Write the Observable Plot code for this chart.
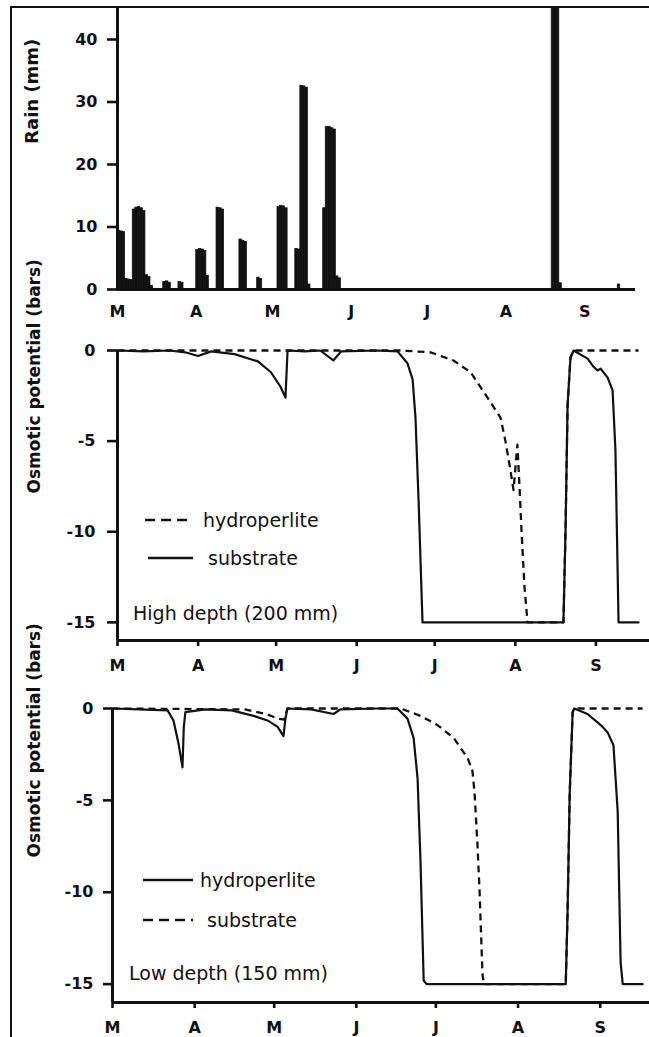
<!DOCTYPE html>
<html>
<head>
<meta charset="utf-8">
<script src="https://cdn.jsdelivr.net/npm/d3@7"></script>
<script src="https://cdn.jsdelivr.net/npm/@observablehq/plot@0.6"></script>
<style>
  body { margin: 0; background: #fff; }
  #fig { position: relative; width: 649px; height: 1037px; overflow: hidden; background: #fff;
         font-family: "DejaVu Sans", sans-serif; color: #111; }
  .panel { position: absolute; left: 0; }
  .panel svg { background: transparent !important; display: block; overflow: visible; }
  .panel svg.axes { position: absolute; left: 0; top: 0; }
  .panel svg.axes [aria-label$="axis tick"] path { stroke-width: 2.6px; }
  .frame { position: absolute; left: 10px; top: 6px; width: 700px; height: 1100px;
           border-left: 2px solid #111; border-top: 2px solid #111; pointer-events: none; }
  .leg { position: absolute; height: 20px; line-height: 20px; font-size: 19px; white-space: nowrap; color: #111; }
  .sw { position: absolute; height: 4px; }
</style>
</head>
<body>
<div id="fig">
  <div class="panel" id="p1" style="top:0px"></div>
  <div class="panel" id="p2" style="top:325px"></div>
  <div class="panel" id="p3" style="top:680px"></div>
  <div class="frame"></div>
</div>
<script>
// ---- axes ----
const monthDays = [0, 31, 61, 92, 122, 153, 184];          // days since 1 March
const monthLabels = ["M", "A", "M", "J", "J", "A", "S"];
const rainTicks = [0, 10, 20, 30, 40];
const potentialTicks = [0, -5, -10, -15];

// ---- daily rain (mm), day = days since 1 March ----
const rainDay = [0,1,2,3,4,5, 6,7,8,9,10,11,12,13, 18,19,20, 24,25, 31,32,33,34,35, 39,40,41, 48,49,50, 55,56, 63,64,65,66, 70,71,72,73,74,75, 81,82,83,84,85,86,87, 171,172,173,174, 197];
const rainMm  = [9.4,9.3,9.2,1.7,1.6,1.5, 12.8,13.1,13.2,13.0,12.6,2.3,2.0,0.6, 1.2,1.3,1.1, 1.2,1.1, 6.3,6.5,6.4,6.2,2.2, 13.1,13.0,12.8, 8.0,7.8,7.6, 1.9,1.7, 13.2,13.4,13.3,13.0, 6.5,6.4,32.6,32.5,32.3,0.8, 13.0,26.0,26.0,25.8,25.6,2.1,1.8, 48,48,48,1.0, 0.8];

// ---- High depth (200 mm) ----
const highSubDay = [0, 10, 20, 26, 31, 36, 45, 54, 59, 62.7, 64.6, 65.4, 72, 78, 83, 86, 100, 107.7, 111.5, 113.5, 114.6, 115.8, 117.3, 171.5, 172.3, 173.1, 174.2, 175.4, 180.8, 183.1, 184.6, 185.8, 188.5, 190.4, 191.5, 192.7, 200.4];
const highSubVal = [0, -0.05, 0, -0.1, -0.3, -0.05, -0.2, -0.6, -1.2, -2.0, -2.6, 0, -0.05, 0, -0.55, -0.05, 0, -0.05, -0.7, -1.6, -3.7, -8.3, -15, -15, -10, -3, -0.4, 0, -0.45, -0.9, -1.1, -1.0, -1.5, -2.2, -5.5, -15, -15];
const highHydDay = [0, 108.8, 120.4, 129.2, 135.8, 142.3, 147.3, 149.2, 151, 152.3, 153.8, 154.6, 155.4, 156.5, 157.7, 171.5, 172.3, 173.1, 174.2, 175.4, 200.4];
const highHydVal = [0, 0, -0.1, -0.55, -1.2, -2.6, -3.7, -5, -6.5, -7.7, -5.2, -7.5, -10, -13, -15, -15, -10, -3, -0.4, 0, 0];

// ---- Low depth (150 mm) ----
const lowHydDay = [0, 10, 20.8, 23, 24.9, 26.4, 26.9, 27.5, 35, 45, 53.2, 58.5, 62.3, 64.5, 65.3, 66, 75, 83.4, 86, 100, 107.5, 111.3, 113.6, 115.1, 116.2, 117.4, 118.5, 171, 171.7, 172.5, 173.6, 174.2, 179.2, 183, 184.9, 186.8, 189, 190.6, 191.7, 192.5, 200];
const lowHydVal = [0, -0.05, -0.1, -0.65, -1.9, -3.2, -1.0, -0.2, -0.05, -0.1, -0.4, -0.65, -1.0, -1.5, -0.5, 0, -0.05, -0.3, -0.05, 0, 0, -0.55, -1.6, -3.8, -8.3, -14.8, -15, -15, -11, -4.6, -0.2, 0, -0.3, -0.75, -1.0, -1.3, -2.0, -5.6, -13.8, -15, -15];
const lowSubDay = [0, 50, 58, 62.3, 64.8, 66, 108.7, 116.2, 122.6, 128.7, 134, 135.8, 136.6, 137.7, 138.5, 139.6, 140.2, 171, 171.7, 172.5, 173.6, 174.2, 200];
const lowSubVal = [0, -0.05, -0.3, -0.55, -0.6, 0, 0, -0.4, -0.9, -1.6, -2.7, -3.4, -4.6, -7.4, -10, -14.5, -15, -15, -11, -4.6, -0.2, 0, 0];

// ---- build tables ----
const rain = rainDay.map((d, i) => ({day: d, next: d + 1, mm: rainMm[i]}));
const series = (days, vals) => days.map((d, i) => ({day: d, v: vals[i]}));
const monthFmt = new Map(monthDays.map((d, i) => [d, monthLabels[i]]));

const INK = "#111";
const W = 649;
const baseStyle = {fontFamily: "DejaVu Sans", fontSize: "16px", fontWeight: "bold",
                   background: "transparent", color: INK};

// axes layer: same scales as the data layer, drawn as a separate transparent SVG on top
function axesLayer(g, xOpts, yOpts) {
  const svg = Plot.plot({
    width: W, height: g.height,
    marginLeft: g.ml, marginRight: g.mr, marginTop: g.mt, marginBottom: g.mb,
    style: baseStyle,
    x: {domain: g.xDomain, label: null, ...xOpts},
    y: {domain: g.yDomain, label: null, ...yOpts},
    marks: [Plot.ruleX([g.xDomain[0]])]
  });
  svg.classList.add("axes");
  return svg;
}

// ---- Panel 1: rain ----
const G1 = {height: 325, ml: 117, mr: 14, mt: 7.75, mb: 36, xDomain: [0, 204], yDomain: [0, 45]};
const p1 = Plot.plot({
  width: W, height: G1.height,
  marginLeft: G1.ml, marginRight: G1.mr, marginTop: G1.mt, marginBottom: G1.mb,
  style: baseStyle,
  x: {domain: G1.xDomain, axis: null},
  y: {domain: G1.yDomain, axis: null},
  marks: [
    Plot.rectY(rain, {x1: "day", x2: "next", y: "mm", fill: INK, stroke: INK, strokeWidth: 0.7, clip: true}),
    Plot.ruleY([0], {stroke: INK, strokeWidth: 3}),
    Plot.ruleX([0], {stroke: INK, strokeWidth: 3}),
    Plot.text(["Rain (mm)"], {frameAnchor: "left", dx: -85, dy: -5, rotate: -90, fontSize: 18, fontWeight: "bold", fill: INK})
  ]
});
document.getElementById("p1").append(p1);
document.getElementById("p1").append(axesLayer(G1,
  {ticks: monthDays, tickFormat: d => monthFmt.get(d), tickSize: 0, tickPadding: 16},
  {ticks: rainTicks, tickFormat: d => `${d}`, tickSize: 10, tickPadding: 10}));

function potentialPanel(id, o) {
  const G = {height: o.height, ml: o.ml, mr: 0, mt: o.mt, mb: o.mb, xDomain: [0, o.xMax], yDomain: [-16, 0]};
  const svg = Plot.plot({
    width: W, height: G.height,
    marginLeft: G.ml, marginRight: 0, marginTop: G.mt, marginBottom: G.mb,
    style: baseStyle,
    x: {domain: G.xDomain, axis: null},
    y: {domain: G.yDomain, axis: null},
    marks: [
      Plot.line(o.dashed, {x: "day", y: "v", stroke: INK, strokeWidth: 2.3, strokeDasharray: "7,5", strokeLinecap: "butt"}),
      Plot.line(o.solid, {x: "day", y: "v", stroke: INK, strokeWidth: 2.2}),
      Plot.ruleY([-16], {stroke: INK, strokeWidth: 3}),
      Plot.ruleX([0], {stroke: INK, strokeWidth: 3}),
      Plot.text(["Osmotic potential (bars)"], {frameAnchor: "left", dx: o.titleDx, dy: o.titleDy, rotate: -90, fontSize: 17, fontWeight: "bold", fill: INK})
    ]
  });
  const el = document.getElementById(id);
  el.append(svg);
  el.append(axesLayer(G,
    {ticks: monthDays, tickFormat: d => monthFmt.get(d), tickSize: 6, tickPadding: 13},
    {ticks: potentialTicks, tickFormat: d => `${d}`, tickSize: o.tickSize, tickPadding: o.tickPadding}));
}

potentialPanel("p2", {
  height: 355, mt: 25, mb: 40, ml: 117, xMax: 204.6, tickSize: 10, tickPadding: 12, titleDx: -83, titleDy: -2,
  dashed: series(highHydDay, highHydVal), solid: series(highSubDay, highSubVal)
});
potentialPanel("p3", {
  height: 357, mt: 28, mb: 35, ml: 112, xMax: 202.6, tickSize: 9, tickPadding: 10, titleDx: -78, titleDy: 2,
  dashed: series(lowSubDay, lowSubVal), solid: series(lowHydDay, lowHydVal)
});

// ---- legends (page coordinates) ----
const legendItems = [
  {label: "hydroperlite", dashed: true,  x0: 145, x1: 193, tx: 203, y: 520},
  {label: "substrate",    dashed: false, x0: 148, x1: 193, tx: 208, y: 558},
  {label: "hydroperlite", dashed: false, x0: 143, x1: 193, tx: 200, y: 880},
  {label: "substrate",    dashed: true,  x0: 143, x1: 193, tx: 207, y: 920}
];
const panelNotes = [
  {label: "High depth (200 mm)", x: 133, y: 613},
  {label: "Low depth (150 mm)",  x: 129, y: 973}
];
const fig = document.getElementById("fig");
for (const it of legendItems) {
  const w = it.x1 - it.x0;
  const sw = document.createElement("div");
  sw.className = "sw";
  sw.style.left = it.x0 + "px"; sw.style.top = (it.y - 2) + "px"; sw.style.width = w + "px";
  sw.innerHTML = `<svg width="${w}" height="4" style="display:block"><line x1="0" y1="2" x2="${w}" y2="2" stroke="${INK}" stroke-width="2.3" ${it.dashed ? 'stroke-dasharray="10,6"' : ''}/></svg>`;
  fig.append(sw);
  const t = document.createElement("div");
  t.className = "leg";
  t.style.left = it.tx + "px"; t.style.top = (it.y - 10) + "px";
  t.textContent = it.label;
  fig.append(t);
}
for (const n of panelNotes) {
  const t = document.createElement("div");
  t.className = "leg";
  t.style.left = n.x + "px"; t.style.top = (n.y - 10) + "px";
  t.textContent = n.label;
  fig.append(t);
}
</script>
</body>
</html>
